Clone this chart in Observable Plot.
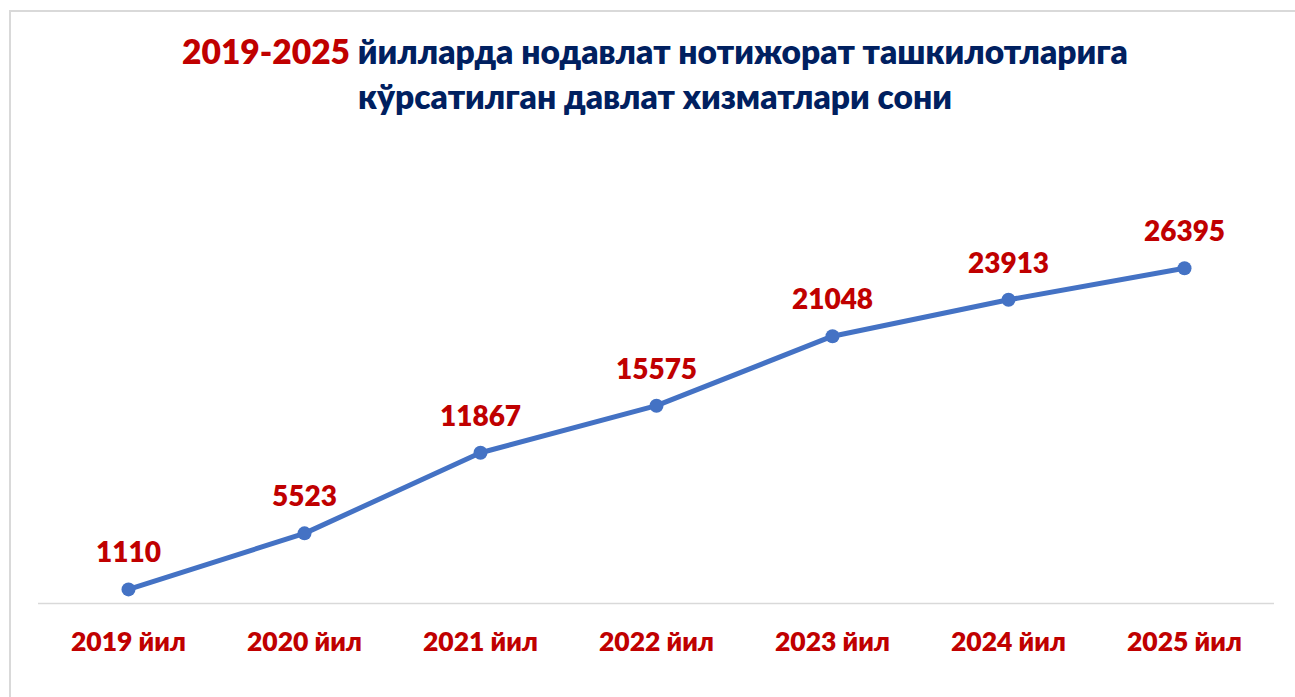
<!DOCTYPE html>
<html>
<head>
<meta charset="utf-8">
<script src="https://cdn.jsdelivr.net/npm/d3@7"></script>
<script src="https://cdn.jsdelivr.net/npm/@observablehq/plot@0.6"></script>
<style>
  html, body { margin: 0; padding: 0; background: #fff; }
  #wrap { position: relative; width: 1295px; height: 697px; overflow: hidden; font-family: Lato, "Open Sans", sans-serif; }
  #frame { position: absolute; left: 9px; top: 10px; width: 1320px; height: 720px; border: 2px solid #d9d9d9; box-sizing: border-box; pointer-events: none; }
  #title { box-sizing: border-box; height: 130px; padding-top: 29px; padding-left: 15px; width: 1295px; text-align: center;
           font-size: 33.5px; line-height: 45px; font-weight: 800; color: #002060; }
  #title .red { color: #C00000; }
  #chart svg { display: block; }
</style>
</head>
<body>
<div id="wrap">
  <div id="frame"></div>
  <div id="title"><span class="red">2019-2025</span> йилларда нодавлат нотижорат ташкилотларига<br>кўрсатилган давлат хизматлари сони</div>
  <div id="chart"></div>
</div>
<script>
const years = ["2019", "2020", "2021", "2022", "2023", "2024", "2025"];
const yearLabels = ["2019 йил", "2020 йил", "2021 йил", "2022 йил", "2023 йил", "2024 йил", "2025 йил"];
const values = [1110, 5523, 11867, 15575, 21048, 23913, 26395];

const data = years.map((y, i) => ({year: y, value: values[i]}));
const labelOf = new Map(years.map((y, i) => [y, yearLabels[i]]));

const red = "#C00000";
const blue = "#4472C4";

const chart = Plot.plot({
  width: 1295,
  height: 567,
  marginLeft: 38,
  marginRight: 21,
  marginTop: 92,
  marginBottom: 94,
  style: {fontFamily: "Lato, 'Open Sans', sans-serif", background: "transparent"},
  x: {type: "point", domain: years, padding: 0.5, align: 0.5, label: null},
  y: {domain: [0, 30000], axis: null},
  marks: [
    Plot.ruleY([0], {stroke: "#d9d9d9", strokeWidth: 1.5}),
    Plot.axisX({tickSize: 0, tickPadding: 29, tickFormat: d => labelOf.get(d), fontSize: 26.5, fontWeight: 800, fill: red, label: null}),
    Plot.line(data, {x: "year", y: "value", stroke: blue, strokeWidth: 5, strokeLinejoin: "round", strokeLinecap: "round"}),
    Plot.dot(data, {x: "year", y: "value", r: 7, fill: blue, stroke: "none"}),
    Plot.text(data, {x: "year", y: "value", text: d => String(d.value), dy: -36, lineAnchor: "middle", fontSize: 28, fontWeight: 800, fill: red})
  ]
});
document.getElementById("chart").appendChild(chart);
</script>
</body>
</html>
